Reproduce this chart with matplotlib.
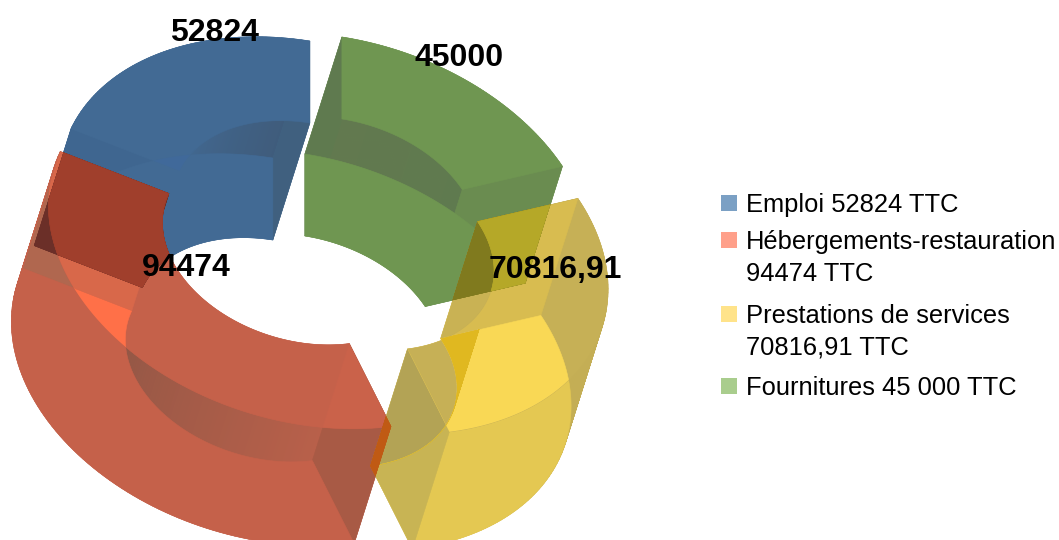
#!/usr/bin/env python

# Exploded 3D doughnut, drawn by hand because matplotlib has no such chart type

import matplotlib
matplotlib.use('Agg')
import matplotlib.pyplot as plt
import matplotlib.colors as mc
from matplotlib.patches import Polygon, Rectangle
import numpy as np

plt.rcParams['font.family'] = ['Liberation Sans', 'DejaVu Sans']

names = ['Emploi', 'Hebergements', 'Prestations', 'Fournitures']
values = [52824, 94474, 70816.91, 45000]
value_labels = ['52824', '94474', '70816,91', '45000']
legend_labels = ['Emploi 52824 TTC',
                 'Hébergements-restauration\n94474 TTC',
                 'Prestations de services\n70816,91 TTC',
                 'Fournitures 45 000 TTC']
legend_colors = ['#7ba0c4', '#ffa08a', '#ffe38a', '#a9cd8d']

# colours of each face type, per slice
base_colors = ['#426a94', '#c5614a', '#e4c852', '#6f9651']
top_colors = ['#426a94', '#c5614a', '#c6b056', '#6f9651']
bright_colors = ['#40699a', '#ff7048', '#f9d855', '#709a52']
start_wall = ['#40607f', '#b0674f', '#b3a355', '#6a8c50']
end_wall = ['#3f6690', '#a85a45', '#c9b254', '#5f7a4f']
outer_from = ['#426a94', '#c5614a', '#e6c852', '#6f9651']
outer_to = ['#426a94', '#c5614a', '#c4ae55', '#6f9651']
band_from = ['#3f5a78', '#8a5545', '#c9b254', '#5f7a4f']
band_to = ['#426a94', '#b8604a', '#d5ba52', '#62794f']
wall_on_bottom = [None, None, '#e0b820', None]

# projection of the ring plane to pixels
cx, cy = 327, 240
ux, uy = 114, 18
vy = -82
dx, dy = -37, 117
R_out, R_in = 2.2, 1.2
explode = 0.255
n = 80
# small pixel corrections of each slice on top of the explode offset
nudge_x = [0, -8, 3, 0]
nudge_y = [1, -8, -2, -7]

total = sum(values)
edges = np.concatenate([[0], np.cumsum(values)]) / total * 2 * np.pi


def proj(r, th, off, low, i):
    u = r * -np.sin(th) + off[0]
    v = r * np.cos(th) + off[1]
    x = cx + ux * u + (dx if low else 0) + nudge_x[i]
    y = cy + uy * u + vy * v + (dy if low else 0) + nudge_y[i]
    return np.column_stack([x, y])


def make_faces(i):
    th = np.linspace(edges[i], edges[i + 1], n)
    mid = (edges[i] + edges[i + 1]) / 2
    off = (-np.sin(mid) * explode, np.cos(mid) * explode)
    to, ti = proj(R_out, th, off, False, i), proj(R_in, th, off, False, i)
    bo, bi = proj(R_out, th, off, True, i), proj(R_in, th, off, True, i)
    f = {}
    f['top'] = np.vstack([to, ti[::-1]])
    f['bottom'] = np.vstack([bo, bi[::-1]])
    f['start'] = np.array([to[0], ti[0], bi[0], bo[0]])
    f['end'] = np.array([to[-1], ti[-1], bi[-1], bo[-1]])
    f['outer'] = np.vstack([to, bo[::-1]])
    f['inner'] = np.vstack([ti, bi[::-1]])
    f['outer_strips'] = [np.array([to[k], to[k + 1], bo[k + 1], bo[k]]) for k in range(n - 1)]
    f['inner_strips'] = [np.array([ti[k], ti[k + 1], bi[k + 1], bi[k]]) for k in range(n - 1)]
    return f


def mix(c0, c1, t):
    t = min(1, t)
    return tuple((1 - t) * np.array(mc.to_rgb(c0)) + t * np.array(mc.to_rgb(c1)))


def add(ax, pts, color, clip=None, alpha=1.0):
    # edge in the same colour hides seams between strips
    p = Polygon(pts, closed=True, facecolor=color, edgecolor=color, lw=0.4, alpha=alpha)
    ax.add_patch(p)
    if clip is not None:
        c = Polygon(clip, closed=True, transform=ax.transData)
        p.set_clip_path(c)
    return p


fig = plt.figure(figsize=(10.59, 5.40), dpi=100)
ax = fig.add_axes([0, 0, 1, 1])
ax.set(xlim=(0, 1059), ylim=(540, 0))
ax.axis('off')

faces = [make_faces(i) for i in range(len(values))]


def draw_slice(i):
    f = faces[i]
    for k, s in enumerate(f['outer_strips']):
        add(ax, s, mix(outer_from[i], outer_to[i], 2 * k / (n - 2)))
    # inner wall is only darker where it lies over the outer wall
    add(ax, f['inner'], base_colors[i])
    for k, s in enumerate(f['inner_strips']):
        add(ax, s, mix(band_from[i], band_to[i], k / (n - 2)), clip=f['outer'])
    add(ax, f['start'], start_wall[i])
    add(ax, f['end'], end_wall[i])
    add(ax, f['bottom'], base_colors[i])
    add(ax, f['top'], top_colors[i])


def draw_extras(i):
    f = faces[i]
    add(ax, f['bottom'], bright_colors[i], clip=f['top'])
    if wall_on_bottom[i]:
        for s in f['inner_strips']:
            add(ax, s, wall_on_bottom[i], clip=f['bottom'])


# draw order: far slices first
for i in [0, 3, 1, 2]:
    draw_slice(i)
    if i == 2:
        # yellow slice: walls seen through the top and bottom faces
        add(ax, faces[2]['end'], '#d8bc50', clip=faces[2]['top'])
        add(ax, faces[2]['start'], '#ddc254', clip=faces[2]['top'])
        add(ax, faces[2]['start'], '#c8b454', clip=faces[2]['bottom'])
    draw_extras(i)

# red slice: its own walls seen through the top face
add(ax, faces[1]['start'], '#d8684a', clip=faces[1]['top'])
add(ax, faces[1]['end'], '#ca624a', clip=faces[1]['top'])


def overlap(upper, lower, col_outside, col_top):
    for name in ['start', 'end', 'inner', 'outer', 'bottom', 'top']:
        for other in ['start', 'end', 'outer', 'inner', 'bottom', 'top']:
            add(ax, faces[upper][name], col_outside, clip=faces[lower][other])
    for other in ['start', 'end', 'outer', 'inner', 'bottom', 'top']:
        add(ax, faces[upper]['top'], col_top, clip=faces[lower][other])


overlap(1, 0, '#6b2f28', '#a03f2c')
overlap(2, 3, '#807a1e', '#b5a828')
overlap(2, 1, '#c05a14', '#c05a14')

# value labels
label_x = [214, 186, 555, 459]
label_y = [33, 268, 270, 58]
for t, x, y in zip(value_labels, label_x, label_y):
    ax.text(x, y, t, fontsize=23, fontweight='bold', ha='center', va='center', color='black')

# legend
legend_y = [203, 240, 314, 386]
for t, c, y in zip(legend_labels, legend_colors, legend_y):
    ax.add_patch(Rectangle((721, y - 8), 16, 16, facecolor=c, edgecolor='none'))
    ax.text(746, y - 10, t, fontsize=18.4, ha='left', va='top', color='black', linespacing=1.42)

fig.savefig('out.png', dpi=100)
